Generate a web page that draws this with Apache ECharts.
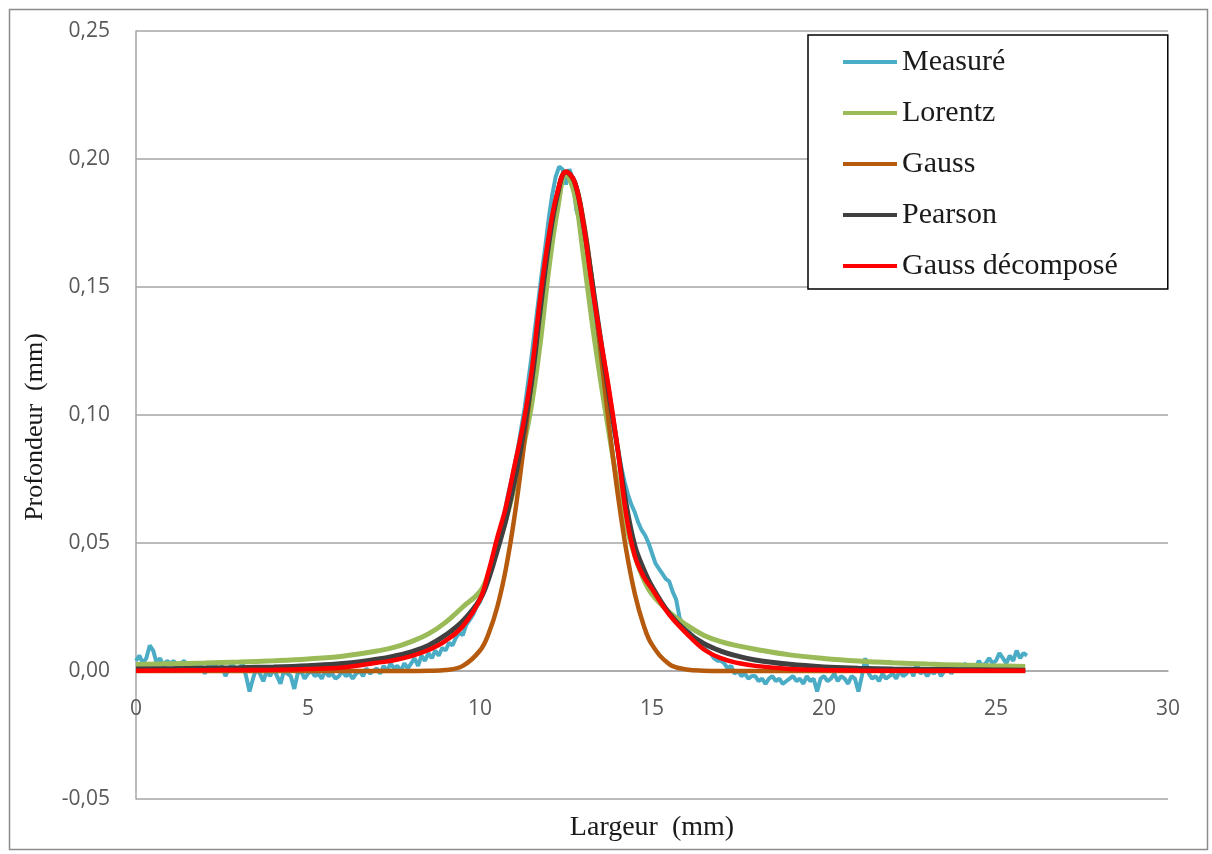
<!DOCTYPE html>
<html>
<head>
<meta charset="utf-8">
<script src="https://cdn.jsdelivr.net/npm/echarts@6/dist/echarts.min.js"></script>
<style>html,body{margin:0;padding:0;background:#fff;}#c{width:1212px;height:854px;}</style>
</head>
<body>
<div id="c"></div>
<script>
// ---- Data ----
const seriesNames = ['Measuré', 'Lorentz', 'Gauss', 'Pearson', 'Gauss décomposé'];
const xTicks = [0, 5, 10, 15, 20, 25, 30];
const yTicks = [-0.05, 0, 0.05, 0.10, 0.15, 0.20, 0.25];
const xTitle = 'Largeur  (mm)';
const yTitle = 'Profondeur  (mm)';

// Measured profile: sampled every 0.1 mm starting at 0 mm
const measStart = 0;
const measStep = 0.1;
const measured = [
  0.004, 0.006, 0.003, 0.005, 0.010, 0.008, 0.003, 0.005, 0.002, 0.004,
  0.003, 0.004, 0.001, 0.003, 0.004, 0.002, 0.000, 0.003, 0.001, 0.002,
  -0.001, 0.002, 0.001, 0.003, 0.000, 0.002, -0.002, 0.001, 0.003, 0.000,
  0.001, 0.003, -0.002, -0.008, -0.003, 0.001, -0.001, -0.004, 0.000, -0.002,
  0.001, -0.002, -0.005, 0.000, -0.001, -0.002, -0.007, -0.001, 0.000, -0.003,
  -0.001, 0.000, -0.002, -0.001, -0.003, 0.000, -0.002, -0.001, -0.003, -0.002,
  0.000, -0.002, -0.001, -0.003, -0.001, 0.000, -0.002, 0.001, -0.001, 0.000,
  0.001, -0.001, 0.002, 0.000, 0.003, 0.001, 0.002, 0.000, 0.003, 0.001,
  0.003, 0.005, 0.002, 0.006, 0.004, 0.007, 0.005, 0.008, 0.006, 0.009,
  0.008, 0.011, 0.010, 0.013, 0.015, 0.014, 0.018, 0.020, 0.022, 0.025,
  0.027, 0.031, 0.035, 0.040, 0.045, 0.050, 0.055, 0.061, 0.068, 0.074,
  0.080, 0.087, 0.095, 0.103, 0.113, 0.123, 0.134, 0.145, 0.156, 0.166,
  0.177, 0.186, 0.193, 0.197, 0.196, 0.190, 0.196, 0.192, 0.180, 0.176,
  0.170, 0.161, 0.152, 0.143, 0.134, 0.125, 0.117, 0.109, 0.101, 0.094,
  0.087, 0.080, 0.074, 0.069, 0.065, 0.062, 0.058, 0.055, 0.053, 0.050,
  0.046, 0.042, 0.040, 0.038, 0.036, 0.035, 0.031, 0.028, 0.021, 0.018,
  0.016, 0.015, 0.013, 0.012, 0.010, 0.009, 0.008, 0.007, 0.005, 0.004,
  0.004, 0.003, 0.001, 0.002, -0.001, 0.000, -0.002, -0.001, -0.003, -0.002,
  -0.002, -0.004, -0.003, -0.005, -0.003, -0.002, -0.004, -0.003, -0.005, -0.004,
  -0.003, -0.002, -0.004, -0.003, -0.005, -0.002, -0.004, -0.003, -0.008, -0.003,
  -0.002, -0.004, -0.003, -0.001, -0.004, -0.002, -0.003, -0.005, -0.002, -0.003,
  -0.008, -0.002, 0.005, -0.001, -0.003, -0.002, -0.004, -0.001, -0.003, -0.002,
  -0.001, -0.003, 0.000, -0.002, -0.001, 0.001, -0.002, 0.003, -0.001, 0.000,
  -0.002, 0.000, -0.001, 0.001, -0.002, 0.000, 0.002, -0.001, 0.001, 0.000,
  0.001, 0.003, 0.000, 0.002, 0.001, 0.004, 0.002, 0.003, 0.005, 0.003,
  0.004, 0.007, 0.005, 0.003, 0.006, 0.004, 0.008, 0.005, 0.007, 0.006
];

// Fitted curves, sampled at these widths (mm)
const fitX = [0, 1, 2, 3, 4, 5, 6, 7,
  7.5, 8, 8.5, 9, 9.5,
  10, 10.25, 10.5, 10.75, 11, 11.25, 11.5, 11.75, 12, 12.25, 12.5, 12.75, 13, 13.25, 13.5, 13.75, 14, 14.25, 14.5, 14.75, 15,
  15.5, 16, 16.5, 17, 17.5, 18,
  19, 20, 21, 22, 23, 24, 25,
  25.85];
const lorentz = [0.0025, 0.0028, 0.0031, 0.0035, 0.0040, 0.0047, 0.0058, 0.0078,
  0.0092, 0.0115, 0.0145, 0.019, 0.025,
  0.031, 0.038, 0.048, 0.059, 0.072, 0.087, 0.104, 0.128, 0.157, 0.180, 0.194, 0.186, 0.163, 0.137, 0.114, 0.093, 0.073, 0.057, 0.045, 0.036, 0.030,
  0.023, 0.018, 0.014, 0.0115, 0.0098, 0.0085,
  0.0063, 0.0049, 0.0039, 0.0032, 0.0027, 0.0023, 0.0020,
  0.0018];
const gauss = [0, 0, 0, 0, 0, 0, 0, 0,
  0, 0, 0.0001, 0.0004, 0.0020,
  0.0080, 0.0146, 0.0249, 0.0398, 0.0600, 0.0852, 0.1136, 0.1425, 0.1681, 0.1866, 0.1948, 0.1912, 0.1766, 0.1534, 0.1253, 0.0963, 0.0696, 0.0473, 0.0302, 0.0182, 0.0103,
  0.0027, 0.0006, 0.0001, 0, 0, 0,
  0, 0, 0, 0, 0, 0, 0,
  0];
const pearson = [0.0008, 0.0009, 0.0011, 0.0013, 0.0016, 0.0021, 0.0029, 0.0046,
  0.0058, 0.0075, 0.0100, 0.014, 0.0195,
  0.028, 0.036, 0.047, 0.059, 0.074, 0.092, 0.113, 0.141, 0.167, 0.186, 0.195, 0.191, 0.175, 0.153, 0.130, 0.108, 0.087, 0.065, 0.049, 0.040, 0.033,
  0.0225, 0.0155, 0.0108, 0.0078, 0.0058, 0.0043,
  0.0026, 0.0016, 0.0011, 0.0008, 0.0006, 0.0005, 0.0004,
  0.0003];
const gaussDecomp = [0.0001, 0.0002, 0.0003, 0.0004, 0.0005, 0.0008, 0.0014, 0.0032,
  0.0042, 0.0058, 0.0082, 0.0118, 0.0175,
  0.028, 0.039, 0.052, 0.064, 0.080, 0.096, 0.117, 0.146, 0.170, 0.187, 0.195, 0.191, 0.175, 0.151, 0.130, 0.110, 0.087, 0.061, 0.045, 0.037, 0.032,
  0.022, 0.0147, 0.0085, 0.0050, 0.0031, 0.0020,
  0.0008, 0.0004, 0.0002, 0.0001, 0.0001, 0.0001, 0.0001,
  0.0001];

// ---- Build ----
const pairs = (xs, ys) => xs.map((x, i) => [x, ys[i]]);
const measPairs = measured.map((v, i) => [+(measStart + i * measStep).toFixed(2), v]);

const colors = ['#4bacc6', '#9bbb59', '#b65a0e', '#404040', '#ff0000'];
const widths = [4, 5, 4.5, 5, 4.5];
const datasets = [measPairs, pairs(fitX, lorentz), pairs(fitX, gauss), pairs(fitX, pearson), pairs(fitX, gaussDecomp)];

const chart = echarts.init(document.getElementById('c'), null, { renderer: 'canvas' });
const labelFont = { fontFamily: 'Open Sans', fontSize: 21, color: '#595959' };
const serif = 'Liberation Serif';

const gridBox = { left: 136, top: 31, right: 44, bottom: 55 };
const yMin = yTicks[0], yMax = yTicks[yTicks.length - 1];
const plotH = 854 - gridBox.top - gridBox.bottom;
// lift the x axis from the bottom edge to the y = 0 line (axis crosses at zero, as in the original)
const xAxisLift = -plotH * (0 - yMin) / (yMax - yMin);

chart.setOption({
  animation: false,
  backgroundColor: '#ffffff',
  grid: Object.assign({ containLabel: false, outerBoundsMode: 'none' }, gridBox),
  xAxis: {
    type: 'value', min: xTicks[0], max: xTicks[xTicks.length - 1], interval: 5,
    position: 'bottom', offset: xAxisLift,
    axisLine: { onZero: false, lineStyle: { color: '#a6a6a6', width: 1.5 } },
    axisTick: { show: false },
    splitLine: { show: false },
    axisLabel: Object.assign({ margin: 28 }, labelFont),
    name: xTitle, nameLocation: 'middle', nameGap: 143,
    nameTextStyle: { fontFamily: serif, fontSize: 28, color: '#1a1a1a' }
  },
  yAxis: {
    type: 'value', min: yMin, max: yMax, interval: 0.05,
    axisLine: { show: true, onZero: false, lineStyle: { color: '#a6a6a6', width: 1.5 } },
    axisTick: { show: false },
    splitLine: { show: true, lineStyle: { color: '#a6a6a6', width: 1.5 } },
    axisLabel: Object.assign({ margin: 26, formatter: v => v.toFixed(2).replace('.', ',') }, labelFont)
  },
  legend: {
    orient: 'vertical', left: 808, top: 35,
    data: seriesNames.map(n => ({ name: n, icon: 'rect' })),
    itemWidth: 54, itemHeight: 4, itemGap: 19,
    padding: [11, 50, 7, 35],
    borderColor: '#000', borderWidth: 1.5,
    backgroundColor: '#fff',
    textStyle: { fontFamily: serif, fontSize: 30, color: '#1a1a1a', lineHeight: 32, padding: [0, 0, 0, 0] },
    selectedMode: false
  },
  graphic: [{
    type: 'rect', left: 7, top: 7, z: -10,
    shape: { width: 1198, height: 840 },
    style: { fill: 'none', stroke: '#8c8c8c', lineWidth: 1.5 }
  }, {
    type: 'text', x: 35, y: 427, rotation: Math.PI / 2,
    style: { text: yTitle, font: '26px "Liberation Serif"', fill: '#1a1a1a', align: 'center', verticalAlign: 'middle' }
  }],
  series: seriesNames.map((n, i) => ({
    name: n, type: 'line', data: datasets[i],
    showSymbol: false, symbol: 'none',
    smooth: i === 0 ? false : 0.4,
    lineStyle: { color: colors[i], width: widths[i] },
    itemStyle: { color: colors[i] },
    z: 2 + i
  }))
});
</script>
</body>
</html>
